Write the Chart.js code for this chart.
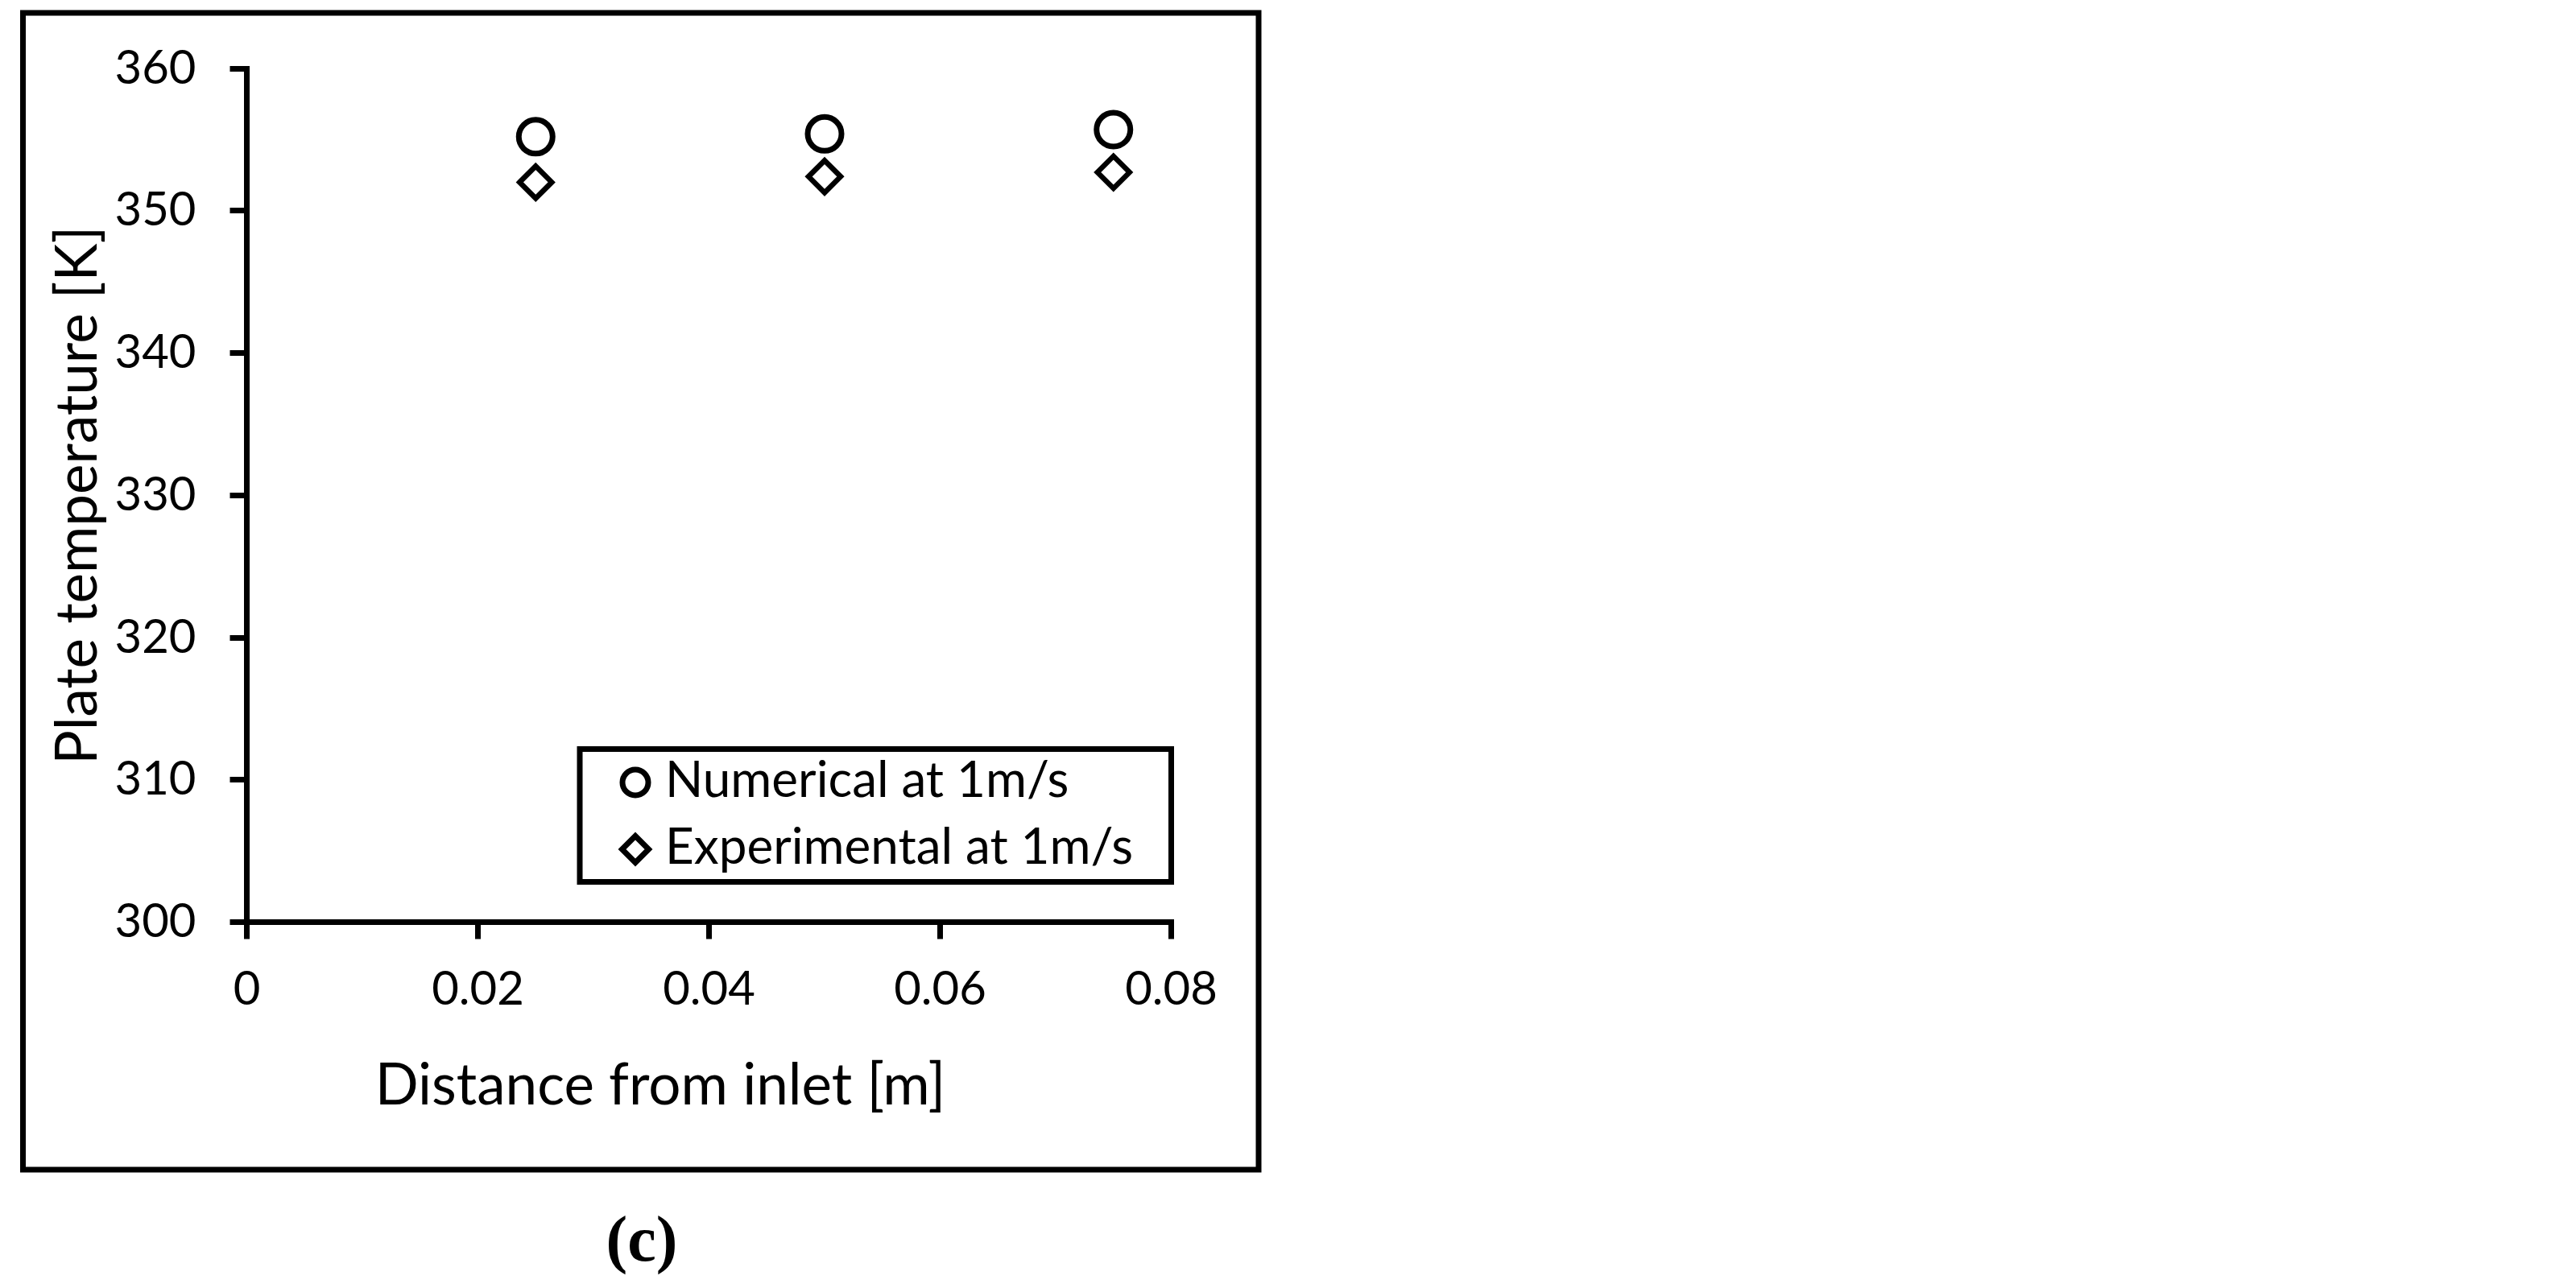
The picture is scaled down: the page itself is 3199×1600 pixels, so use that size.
<!DOCTYPE html>
<html><head><meta charset="utf-8">
<script src="https://cdn.jsdelivr.net/npm/chart.js@4.4.1/dist/chart.umd.min.js"></script>
<style>
html,body{margin:0;padding:0;background:#fff;width:3199px;height:1600px;overflow:hidden;}
#wrap{position:absolute;left:0;top:0;width:1600px;height:1600px;}
#cap{position:absolute;left:697px;width:200px;top:1499px;text-align:center;font-family:"Liberation Serif",serif;font-weight:bold;font-size:80px;line-height:80px;color:#000;}
</style></head><body>
<div id="wrap"><canvas id="c" width="1600" height="1600"></canvas></div>
<div id="cap"></div>
<script>
// ---- data ----
const xValues = [0.025, 0.05, 0.075];
const numerical = [355.2, 355.4, 355.7];
const experimental = [352.0, 352.4, 352.7];
const xTickLabels = ['0', '0.02', '0.04', '0.06', '0.08'];
const yTickLabels = ['300', '310', '320', '330', '340', '350', '360'];
const seriesNames = ['Numerical at 1m/s', 'Experimental at 1m/s'];
const xTitle = 'Distance from inlet [m]';
const yTitle = 'Plate temperature [K]';
const panelLabel = '(c)';

document.getElementById('cap').textContent = panelLabel;

const frameAndLegend = {
  id: 'frameAndLegend',
  beforeDraw(chart) {
    const ctx = chart.ctx;
    ctx.save();
    ctx.fillStyle = '#fff';
    ctx.fillRect(0, 0, chart.width, chart.height);
    ctx.strokeStyle = '#000';
    ctx.lineWidth = 7;
    ctx.strokeRect(28.5, 16, 1563 - 28.5, 1453 - 16);
    ctx.restore();
  },
  afterDraw(chart) {
    const ctx = chart.ctx;
    ctx.save();
    ctx.fillStyle = '#000';
    ctx.strokeStyle = '#000';
    ctx.font = '71px Lato';
    ctx.textAlign = 'center';
    ctx.textBaseline = 'alphabetic';
    ctx.fillText(xTitle, 820, 1372);
    ctx.lineWidth = 7;
    ctx.strokeRect(720, 930.5, 1454.5 - 720, 1095.5 - 930.5);
    const rows = [972, 1055];
    const baselines = [990, 1073];
    chart.data.datasets.forEach((ds, i) => {
      const cx = 789, cy = rows[i];
      ctx.lineWidth = 7;
      ctx.beginPath();
      if (ds.pointStyle === 'circle') {
        ctx.arc(cx, cy, 16, 0, Math.PI * 2);
      } else {
        ctx.moveTo(cx - 16.5, cy); ctx.lineTo(cx, cy - 16.5);
        ctx.lineTo(cx + 16.5, cy); ctx.lineTo(cx, cy + 16.5); ctx.closePath();
      }
      ctx.stroke();
      ctx.font = '62px Lato';
      ctx.textAlign = 'left';
      ctx.fillText(ds.label, 826, baselines[i]);
    });
    ctx.restore();
  }
};

function toPoints(ys) { return xValues.map((x, i) => ({ x: x, y: ys[i] })); }

const axisGrid = { drawOnChartArea: false, drawTicks: true, tickLength: 21, lineWidth: 7, color: '#000' };
const axisBorder = { display: true, color: '#000', width: 7 };

function build() {
  new Chart(document.getElementById('c'), {
    type: 'scatter',
    data: {
      datasets: [
        { label: seriesNames[0], data: toPoints(numerical), pointStyle: 'circle', pointRadius: 21,
          pointBorderWidth: 7, pointBorderColor: '#000', pointBackgroundColor: 'rgba(255,255,255,0)',
          borderColor: '#000', backgroundColor: 'rgba(255,255,255,0)', showLine: false },
        { label: seriesNames[1], data: toPoints(experimental), pointStyle: 'rectRot', pointRadius: 20,
          pointBorderWidth: 6.5, pointBorderColor: '#000', pointBackgroundColor: 'rgba(255,255,255,0)',
          borderColor: '#000', backgroundColor: 'rgba(255,255,255,0)', showLine: false }
      ]
    },
    options: {
      responsive: false, animation: false, devicePixelRatio: 1, events: [],
      layout: { padding: { left: 0, top: 85, right: 145.5, bottom: 0 } },
      plugins: { legend: { display: false }, tooltip: { enabled: false } },
      scales: {
        x: {
          type: 'linear', position: 'bottom', min: 0, max: 0.08,
          afterFit(s) { s.height = 454.5; },
          ticks: { stepSize: 0.02, autoSkip: false, maxRotation: 0, color: '#000', padding: 28,
                   font: { family: 'Lato', size: 58 }, callback: (v, i) => xTickLabels[i] },
          grid: axisGrid, border: axisBorder, title: { display: false }
        },
        y: {
          type: 'linear', position: 'left', min: 300, max: 360,
          afterFit(s) { s.width = 306.5; },
          ticks: { stepSize: 10, autoSkip: false, color: '#000', padding: 42,
                   font: { family: 'Lato', size: 58 }, callback: (v, i) => yTickLabels[i] },
          grid: axisGrid, border: axisBorder,
          title: { display: true, text: yTitle, color: '#000', font: { family: 'Lato', size: 71 },
                   padding: { top: 55, bottom: 0 } }
        }
      }
    },
    plugins: [frameAndLegend]
  });
}

Promise.all([document.fonts.load('58px Lato'), document.fonts.load('71px Lato'), document.fonts.load('62px Lato')])
  .then(build, build);
</script>
</body></html>
